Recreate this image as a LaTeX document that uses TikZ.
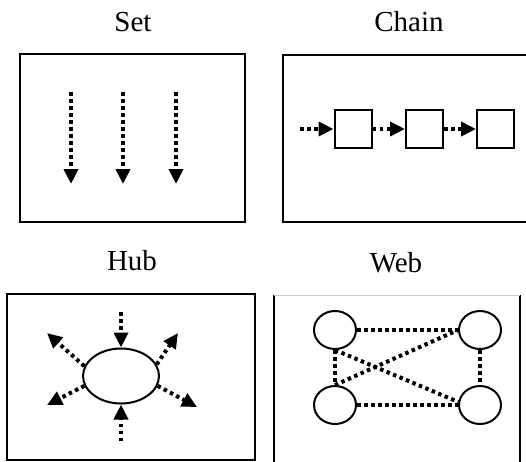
\documentclass[tikz,border=0pt]{standalone}
\usepackage{fontspec}
\setmainfont{Liberation Serif}
\usetikzlibrary{arrows.meta,shapes.geometric}

\tikzset{
	frame/.style={line width=2pt},
	dots/.style={line width=4pt, dash pattern=on 3.5pt off 3.5pt},
	dotarrow/.style={dots, -{Triangle[length=15pt,width=14pt]}},
	title/.style={anchor=base, font=\fontsize{29}{33}\selectfont},
	cell/.style={draw, line width=2pt, minimum width=37pt, minimum height=38pt, inner sep=0pt},
	blob/.style={draw, ellipse, line width=2pt, inner sep=0pt}
}

\begin{document}
\begin{tikzpicture}[x=1pt,y=-1pt]
	\useasboundingbox (0,0) rectangle (526,461);
	% titles
	\node[title] (tset) at (133,31) {Set};
	\node[title] (tchain) at (409,31) {Chain};
	\node[title] (thub) at (132,270) {Hub};
	\node[title] (tweb) at (396,272) {Web};
	% frames
	\draw[frame] (20,54) rectangle (245,222);
	\draw[frame] (283,55) rectangle (540,222);
	\draw[frame] (7,294) rectangle (255,460);
	\draw[frame] (274,470) -- (274,295);
	\draw[frame] (520,470) -- (520,295);
	\draw[line width=0.8pt, gray!40] (274,295) -- (520,295);
	% set
	\foreach \x/\n in {71/a,123/b,176/c} {
		\coordinate (S\n) at (\x,92);
		\coordinate (E\n) at (\x,184);
		\draw[dotarrow] (S\n) -- (E\n);
	}
	% chain
	\coordinate (C0) at (300,129);
	\node[cell] (C1) at (353,129) {};
	\node[cell] (C2) at (424.5,129) {};
	\node[cell] (C3) at (495.5,129) {};
	\draw[dotarrow] (C0) -- (C1.west);
	\draw[dotarrow] (C1.east) -- (C2.west);
	\draw[dotarrow] (C2.east) -- (C3.west);
	% hub
	\node[blob, minimum width=76pt, minimum height=55pt] (H) at (121,376) {};
	\coordinate (Hn) at (121,312);
	\coordinate (Hs) at (121,441);
	\coordinate (Hnw) at (47,333);
	\coordinate (Hne) at (178,333);
	\coordinate (Hsw) at (47,405);
	\coordinate (Hse) at (197,407);
	\draw[dotarrow] (Hn) -- (H.north);
	\draw[dotarrow] (Hs) -- (H.south);
	\draw[dotarrow] (H.165) -- (Hnw);
	\draw[dotarrow] (H.18) -- (Hne);
	\draw[dotarrow] (H.195) -- (Hsw);
	\draw[dotarrow] (H.345) -- (Hse);
	% web
	\node[blob, minimum width=42pt, minimum height=38pt] (W1) at (335,330) {};
	\node[blob, minimum width=42pt, minimum height=38pt] (W2) at (480,330) {};
	\node[blob, minimum width=42pt, minimum height=38pt] (W3) at (335,405) {};
	\node[blob, minimum width=42pt, minimum height=38pt] (W4) at (480,405) {};
	\draw[dots] (W1.east) -- (W2.west);
	\draw[dots] (W3.east) -- (W4.west);
	\draw[dots] (W1.south) -- (W3.north);
	\draw[dots] (W2.south) -- (W4.north);
	\draw[dots] (W1.south) -- (W4.172);
	\draw[dots] (W3.north) -- (W2.west);
\end{tikzpicture}
\end{document}
